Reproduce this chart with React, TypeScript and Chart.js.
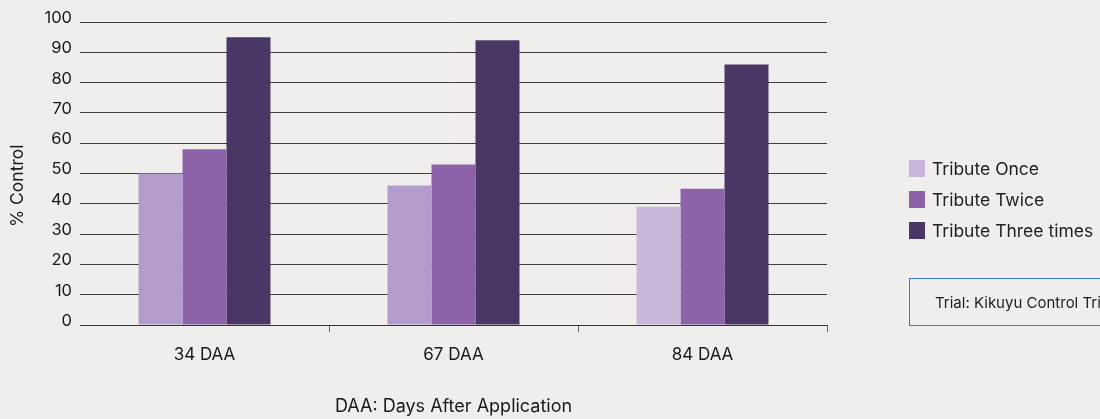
import React, { useEffect, useRef } from "react";
import { Chart, registerables } from "chart.js";

Chart.register(...registerables);

const categories = ["34 DAA", "67 DAA", "84 DAA"];
const seriesNames = ["Tribute Once", "Tribute Twice", "Tribute Three times"];
const onceValues = [50, 46, 39];
const twiceValues = [58, 53, 45];
const threeValues = [95, 94, 86];
const onceBarColors = ["#B29CCB", "#B29CCB", "#C8B6D9"];
const seriesColors = ["#C8B6D9", "#8C62A8", "#4B3766"];
const yTickValues = [0, 10, 20, 30, 40, 50, 60, 70, 80, 90, 100];
const xAxisTitle = "DAA: Days After Application";
const yAxisTitle = "% Control";
const trialNote = "Trial: Kikuyu Control Trial";

const FONT = "Inter, 'Noto Sans', sans-serif";
const BG = "#EFEEEC";

export default function App() {
  const canvasRef = useRef<HTMLCanvasElement | null>(null);

  useEffect(() => {
    const canvas = canvasRef.current;
    if (!canvas) return;
    const chart = new Chart(canvas, {
      type: "bar",
      data: {
        labels: categories,
        datasets: [
          { label: seriesNames[0], data: onceValues, backgroundColor: onceBarColors, borderWidth: 0 },
          { label: seriesNames[1], data: twiceValues, backgroundColor: seriesColors[1], borderWidth: 0 },
          { label: seriesNames[2], data: threeValues, backgroundColor: seriesColors[2], borderWidth: 0 },
        ],
      },
      options: {
        responsive: false,
        animation: false,
        devicePixelRatio: 1,
        layout: { padding: { top: 22, right: 273, left: 0, bottom: 0 } },
        datasets: { bar: { categoryPercentage: 0.53, barPercentage: 1 } },
        plugins: {
          legend: { display: false },
          tooltip: { enabled: false },
        },
        scales: {
          x: {
            grid: {
              offset: true,
              drawOnChartArea: false,
              drawTicks: true,
              tickLength: 7,
              color: (ctx: any) => (ctx.index === 0 ? "rgba(0,0,0,0)" : "#666666"),
              lineWidth: 1,
            },
            border: { display: true, color: "#333333", width: 1 },
            ticks: {
              font: { family: FONT, size: 17 },
              color: "#1a1a1a",
              padding: 13,
            },
            title: {
              display: true,
              text: xAxisTitle,
              font: { family: FONT, size: 18 },
              color: "#1a1a1a",
              padding: { top: 0, bottom: 1.5 },
            },
            afterFit: (scale: any) => {
              scale.height = 94;
            },
          },
          y: {
            min: 0,
            max: 100,
            afterBuildTicks: (scale: any) => {
              scale.ticks = yTickValues.map((v) => ({ value: v }));
            },
            grid: {
              drawTicks: false,
              color: "#3d3d3d",
              lineWidth: 1,
            },
            border: { display: false },
            ticks: {
              font: { family: FONT, size: 16.5 },
              color: "#1a1a1a",
              padding: 8,
              labelOffset: -4,
            },
            title: {
              display: true,
              text: yAxisTitle + "     ",
              font: { family: FONT, size: 17.5 },
              color: "#1a1a1a",
              padding: { top: 7.5, bottom: 0 },
            },
            afterFit: (scale: any) => {
              scale.width = 80;
            },
          },
        },
      },
    });
    return () => chart.destroy();
  }, []);

  return (
    <div
      style={{
        position: "absolute",
        left: 0,
        top: 0,
        width: 1100,
        height: 419,
        overflow: "hidden",
        background: BG,
        fontFamily: FONT,
      }}
    >
      <canvas ref={canvasRef} width={1100} height={419} style={{ position: "absolute", left: 0, top: 0 }} />
      <div
        style={{
          position: "absolute",
          left: 909,
          top: 160,
          display: "flex",
          flexDirection: "column",
          gap: 14,
        }}
      >
        {seriesNames.map((name, i) => (
          <div key={name} style={{ display: "flex", alignItems: "center", height: 17 }}>
            <span style={{ width: 16, height: 17, background: seriesColors[i], display: "inline-block", flex: "none" }} />
            <span style={{ marginLeft: 7, fontSize: 17.5, color: "#1f1f1f", whiteSpace: "nowrap" }}>{name}</span>
          </div>
        ))}
      </div>
      <div
        style={{
          position: "absolute",
          left: 909,
          top: 278,
          width: 240,
          height: 46,
          border: "1px solid #3B7AC6",
          display: "flex",
          alignItems: "center",
          paddingLeft: 25,
          fontSize: 15,
          color: "#1f1f1f",
          whiteSpace: "nowrap",
        }}
      >
        {trialNote}
      </div>
    </div>
  );
}
